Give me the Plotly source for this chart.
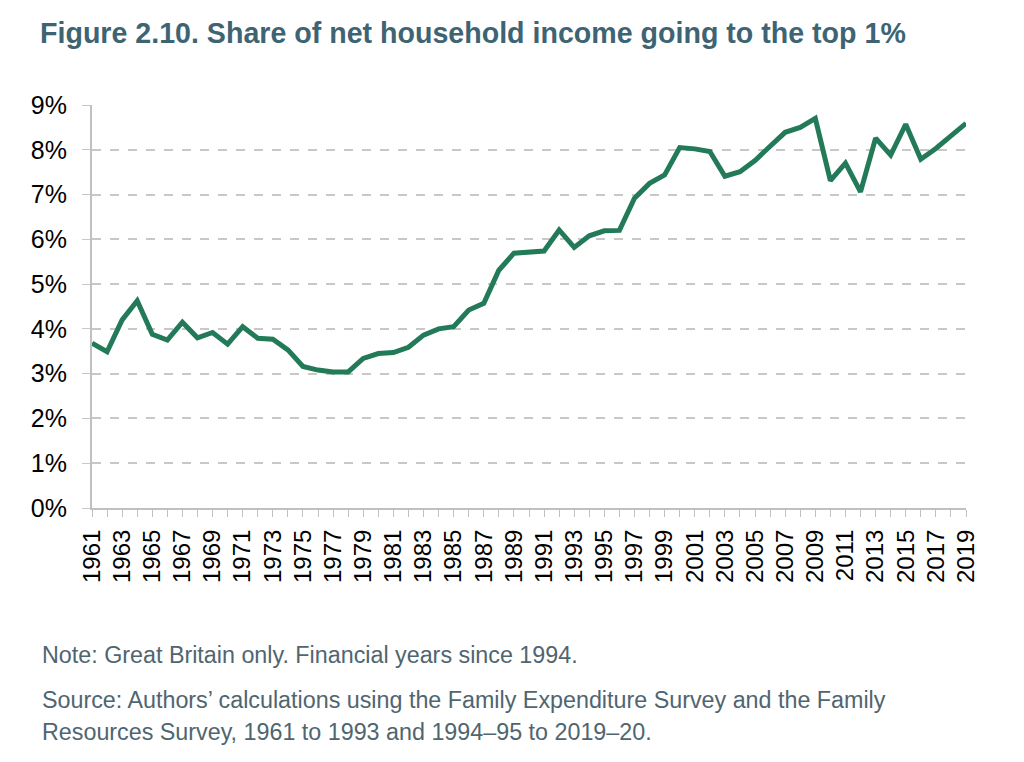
import plotly.graph_objects as go

years = list(range(1961, 2020))
share = [3.68, 3.49, 4.20, 4.63, 3.88, 3.75, 4.15, 3.80, 3.92, 3.66,
         4.05, 3.79, 3.77, 3.53, 3.16, 3.08, 3.04, 3.04, 3.34, 3.45,
         3.47, 3.59, 3.86, 4.00, 4.05, 4.42, 4.57, 5.31, 5.69, 5.72,
         5.74, 6.21, 5.82, 6.08, 6.19, 6.20, 6.92, 7.25, 7.44, 8.05,
         8.02, 7.96, 7.41, 7.51, 7.76, 8.08, 8.39, 8.50, 8.70, 7.31,
         7.70, 7.06, 8.26, 7.88, 8.57, 7.79, 8.03, 8.31, 8.59]
tick_labels = [str(y) if y % 2 == 1 else "" for y in years]
y_ticks = list(range(0, 10))
y_labels = [f"{v}%" for v in y_ticks]

title_text = "Figure 2.10. Share of net household income going to the top 1%"
note_text = "Note: Great Britain only. Financial years since 1994."
source_1 = "Source: Authors\u2019 calculations using the Family Expenditure Survey and the Family"
source_2 = "Resources Survey, 1961 to 1993 and 1994\u201395 to 2019\u201320."

FONT = "Liberation Sans, Arial, sans-serif"

fig = go.Figure()
fig.add_trace(go.Scatter(x=years, y=share, mode="lines",
                         line=dict(color="#237a58", width=5),
                         hoverinfo="x+y"))

OFF = 8  # page body margin
W, H = 1024 - OFF, 762 - OFF
PL, PR, PT, PB = 92, 966, 105, 508  # plot area in screen pixels
L, T = PL - OFF, PT - OFF
R = OFF + W - PR
B = OFF + H - PB
pw, ph = PR - PL, PB - PT

def px_x(px):
    return (px - PL) / pw

def px_y(py):
    return (PB - py) / ph

fig.update_layout(
    width=W, height=H,
    margin=dict(l=L, r=R, t=T, b=B),
    plot_bgcolor="white", paper_bgcolor="white",
    showlegend=False,
    font=dict(family=FONT, color="black"),
    title=dict(text=f"<b>{title_text}</b>", xref="container", yref="container",
               x=(40 - OFF) / W, xanchor="left", y=1 - (33 - OFF) / H, yanchor="middle",
               font=dict(size=28.6, color="#3e6473", family=FONT)),
    xaxis=dict(range=[1961, 2019], tickmode="array", tickvals=years, ticktext=tick_labels,
               tickangle=-90, tickfont=dict(size=24), ticks="outside", ticklen=7,
               tickcolor="#c0c0c0", showline=True, linecolor="#c0c0c0", linewidth=2,
               ticklabelstandoff=3,
               showgrid=False, zeroline=False),
    yaxis=dict(range=[0, 9], tickmode="array", tickvals=y_ticks, ticktext=y_labels,
               tickfont=dict(size=25), ticks="outside", ticklen=8, tickcolor="#c8c8c8",
               ticklabelstandoff=10,
               showline=True, linecolor="#c0c0c0", linewidth=2,
               showgrid=True, gridcolor="#c8c8c8", griddash="dash", gridwidth=1.5,
               zeroline=False),
)

for txt, py in [(note_text, 655), (source_1, 700), (source_2, 732)]:
    fig.add_annotation(text=txt, xref="paper", yref="paper", x=px_x(40), y=px_y(py),
                       xanchor="left", yanchor="middle", showarrow=False, align="left",
                       font=dict(size=23.3, color="#4f6570"))

fig.write_html("out.html")
